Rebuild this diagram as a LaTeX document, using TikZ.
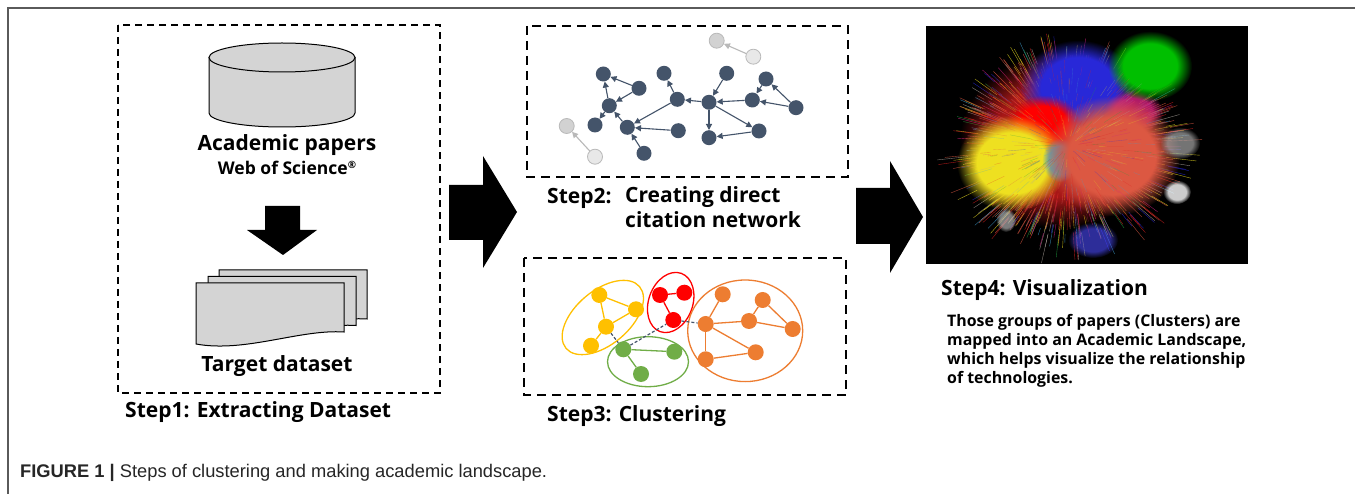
\documentclass[tikz,border=0pt]{standalone}
\usepackage{fontspec}
\setmainfont{Open Sans}
\newfontfamily\capfont{Liberation Sans}
\usetikzlibrary{arrows.meta,fadings}
\definecolor{slate}{HTML}{44546A}
\definecolor{docgray}{HTML}{D4D4D4}
\definecolor{yel}{HTML}{FFC000}
\definecolor{redc}{HTML}{FF0000}
\definecolor{grn}{HTML}{70AD47}
\definecolor{org}{HTML}{ED7D31}
\definecolor{framegray}{HTML}{5A5A5A}
\definecolor{hr}{HTML}{E02020}
\definecolor{hy}{HTML}{EEE020}
\definecolor{hb}{HTML}{2828D8}
\definecolor{ho}{HTML}{DC5842}
\definecolor{hm}{HTML}{D02080}
\definecolor{hc}{HTML}{40A0D0}
\definecolor{hg}{HTML}{20A040}
\definecolor{hw}{HTML}{B0A8A0}
\pgfdeclareradialshading{blobshade}{\pgfpointorigin}{color(0bp)=(white); color(16bp)=(white); color(25bp)=(black); color(50bp)=(black)}
\pgfdeclarefading{blob}{\pgfuseshading{blobshade}}
\tikzset{
  lab/.style={inner sep=0, font=\bfseries\fontsize{21}{25}\selectfont},
  stepbox/.style={draw=black, line width=1.4, dash pattern=on 7pt off 5pt},
  stepboxb/.style={draw=black, line width=2, dash pattern=on 9pt off 6pt},
  netn/.style={circle, fill=slate, inner sep=0, minimum size=15pt},
  ghost/.style={circle, fill=#1, draw=gray!55, line width=0.8, inner sep=0, minimum size=15pt},
  cite/.style={-{Triangle[length=6pt,width=6pt]}, draw=slate, line width=1.1},
  gcite/.style={-{Triangle[length=6pt,width=6pt]}, draw=gray!55, line width=1.1},
  cn/.style={circle, fill=#1, inner sep=0, minimum size=16pt},
  ce/.style={draw=#1, line width=1.3},
  bigarrow/.style={fill=black},
}
\begin{document}
\begin{tikzpicture}[x=1pt,y=-1pt]
\useasboundingbox (0,0) rectangle (1355,494);
\fill[white] (0,0) rectangle (1355,494);
% outer frame (partial)
\draw[framegray, line width=1.3] (1355,8) -- (8,8) -- (8,494);

% ---------- Step 1 ----------
\draw[stepbox] (118,25) rectangle (440,393);
% cylinder
\filldraw[fill=docgray, draw=black, line width=1] (209,57.5) -- (209,113) arc[start angle=180, end angle=0, x radius=73, y radius=14] -- (355,57.5) -- cycle;
\filldraw[fill=docgray, draw=black, line width=1] (282,57.5) ellipse [x radius=73, y radius=14.5];
\node[lab] (acad) at (287,145) {Academic papers};
\node[inner sep=0, font=\bfseries\fontsize{17.5}{20}\selectfont] (wos) at (287,168) {Web of Science\raisebox{0.6ex}{\fontsize{10}{10}\selectfont ®}};
% down arrow
\fill[black] (265,206) -- (300,206) -- (300,230) -- (317,230) -- (283,255) -- (247,230) -- (265,230) -- cycle;
% document stack
\foreach \dx/\dy in {23/-13, 12/-6.5, 0/0}{
  \filldraw[fill=docgray, draw=black, line width=1, shift={(\dx,\dy)}]
    (196,283) -- (344,283) -- (344,332) .. controls (300,329) and (245,353) .. (196,344) -- cycle;
}
\node[lab] (target) at (277,366) {Target dataset};
\node[lab, anchor=west] (s1) at (125,412) {Step1: Extracting Dataset};

% big arrows
\fill[bigarrow] (449,185) -- (483,185) -- (483,156) -- (517,212) -- (483,268) -- (483,240) -- (449,240) -- cycle;
\fill[bigarrow] (856,188) -- (890,188) -- (890,161) -- (923,217) -- (890,273) -- (890,244) -- (856,244) -- cycle;

% ---------- Step 2 ----------
\draw[stepboxb] (527,26) rectangle (848,177);
\node[netn] (n1) at (603.3,74) {};
\node[netn] (n2) at (639,88.3) {};
\node[netn] (n3) at (609.3,105.7) {};
\node[netn] (n4) at (595,125) {};
\node[netn] (n5) at (627.3,127.3) {};
\node[netn] (n6) at (644,153.3) {};
\node[netn] (n7) at (678.3,130.7) {};
\node[netn] (n8) at (664,73.3) {};
\node[netn] (n9) at (677.3,99.3) {};
\node[netn] (n10) at (709,102.3) {};
\node[netn] (n11) at (726.7,73.3) {};
\node[netn] (n12) at (709,137.7) {};
\node[netn] (n13) at (759,131) {};
\node[netn] (n14) at (752.3,100) {};
\node[netn] (n15) at (766,79) {};
\node[netn] (n16) at (796,107.7) {};
\node[ghost=gray!35] (g1) at (716.7,40.7) {};
\node[ghost=gray!18] (g2) at (753.3,56.7) {};
\node[ghost=gray!35] (g3) at (566.7,126) {};
\node[ghost=gray!18] (g4) at (595,156.7) {};
\foreach \a/\b in {n2/n1, n2/n3, n3/n1, n3/n4, n5/n3, n9/n5, n7/n5, n6/n5, n9/n8, n10/n9, n11/n10, n14/n10, n10/n12, n10/n13, n13/n12, n15/n14, n16/n14, n16/n15}
  \draw[cite] (\a) -- (\b);
\draw[gcite] (g2) -- (g1);
\draw[gcite] (g4) -- (g3);
\node[lab, anchor=west] (s2a) at (547,198) {Step2:};
\node[lab, anchor=north west, align=left] (s2b) at (625,186) {Creating direct\\citation network};

% ---------- Step 3 ----------
\draw[stepboxb] (524,258) rectangle (846,395);
\draw[yel, line width=1.3, rotate around={40:(602.8,317.5)}] (602.8,317.5) ellipse [x radius=48, y radius=27];
\draw[redc, line width=1.3, rotate around={70:(670.7,302.5)}] (670.7,302.5) ellipse [x radius=31, y radius=22];
\draw[grn, line width=1.3] (648,361.7) ellipse [x radius=40.5, y radius=25];
\draw[org, line width=1.3] (745.2,330.8) ellipse [x radius=57.5, y radius=50.8];
\node[cn=yel] (y1) at (599.3,295) {};
\node[cn=yel] (y2) at (636,309.3) {};
\node[cn=yel] (y3) at (606,326.7) {};
\node[cn=yel] (y4) at (591,345.7) {};
\node[cn=redc] (r1) at (660,295) {};
\node[cn=redc] (r2) at (684.3,292.7) {};
\node[cn=redc] (r3) at (673.3,320) {};
\node[cn=grn] (q1) at (623.3,349.3) {};
\node[cn=grn] (q2) at (674.3,351.7) {};
\node[cn=grn] (q3) at (641,374) {};
\node[cn=org] (o1) at (722.7,294.3) {};
\node[cn=org] (o2) at (762.7,300) {};
\node[cn=org] (o3) at (705.7,324) {};
\node[cn=org] (o4) at (749,321) {};
\node[cn=org] (o5) at (792.7,329) {};
\node[cn=org] (o6) at (755.7,352.3) {};
\node[cn=org] (o7) at (705.7,359.3) {};
\foreach \a/\b in {y1/y2, y1/y3, y2/y3, y3/y4} \draw[ce=yel] (\a) -- (\b);
\foreach \a/\b in {r1/r2, r1/r3} \draw[ce=redc] (\a) -- (\b);
\foreach \a/\b in {q1/q2, q1/q3} \draw[ce=grn] (\a) -- (\b);
\foreach \a/\b in {o1/o3, o3/o4, o2/o4, o2/o5, o4/o5, o3/o6, o3/o7, o7/o6} \draw[ce=org] (\a) -- (\b);
\foreach \a/\b in {y3/q1, q1/r3, r3/o3} \draw[slate, line width=1.2, dash pattern=on 3pt off 2pt] (\a) -- (\b);
\node[lab, anchor=west] (s3) at (547,416) {Step3: Clustering};

% ---------- Step 4 ----------
\begin{scope}
\clip (926,26) rectangle (1248,264);
\fill[black] (926,26) rectangle (1248,264);
\pgfmathsetseed{11}
\pgfmathdeclarerandomlist{hair}{{hr}{hy}{hb}{ho}{hm}{hc}{hg}{hw}{hr}{hy}{ho}}
\foreach \i in {1,...,700}{
  \pgfmathsetmacro\ang{rnd*360}
  \pgfmathsetmacro\ra{0.35+0.45*rnd}
  \pgfmathsetmacro\rb{\ra+0.06+0.2*rnd}
  \pgfmathrandomitem{\hcol}{hair}
  \draw[color=\hcol, line width=0.4, opacity=0.75] ({1068+130*\ra*cos(\ang)},{146+114*\ra*sin(\ang)}) -- ({1068+130*\rb*cos(\ang)},{146+114*\rb*sin(\ang)});
}
\fill[hr, path fading=blob, opacity=0.75] (1060,140) ellipse [x radius=100, y radius=88];
\fill[hb, path fading=blob] (1078,88) ellipse [x radius=58, y radius=48];
\fill[hm, path fading=blob, opacity=0.8] (1133,112) ellipse [x radius=30, y radius=22];
\fill[red, path fading=blob] (1043,125) ellipse [x radius=38, y radius=30];
\fill[hy, path fading=blob] (1012,163) ellipse [x radius=55, y radius=48];
\fill[hc, path fading=blob, opacity=0.8] (1060,160) ellipse [x radius=18, y radius=22];
\fill[ho, path fading=blob] (1112,156) ellipse [x radius=68, y radius=60];
\fill[green!75!black, path fading=blob] (1150,66) ellipse [x radius=42, y radius=35];
\fill[gray!70, path fading=blob, opacity=0.7] (1180,143) ellipse [x radius=20, y radius=16];
\fill[white, path fading=blob, opacity=0.8] (1177,192) ellipse [x radius=14, y radius=12];
\fill[blue!70!white, path fading=blob, opacity=0.6] (1093,240) ellipse [x radius=25, y radius=18];
\fill[gray!60, path fading=blob, opacity=0.7] (1006,220) ellipse [x radius=10, y radius=12];
\pgfmathsetseed{5}
\foreach \i in {1,...,350}{
  \pgfmathsetmacro\ang{rnd*360}
  \pgfmathsetmacro\ra{0.05+0.6*rnd}
  \pgfmathsetmacro\rb{\ra+0.05+0.12*rnd}
  \pgfmathrandomitem{\hcol}{hair}
  \draw[color=\hcol, line width=0.35, opacity=0.35] ({1068+130*\ra*cos(\ang)},{146+114*\ra*sin(\ang)}) -- ({1068+130*\rb*cos(\ang)},{146+114*\rb*sin(\ang)});
}
\end{scope}
\node[lab, anchor=west] (s4) at (941,290) {Step4: Visualization};
\node[inner sep=0, anchor=north west, align=left, font=\bfseries\fontsize{15.9}{19.2}\selectfont] (desc) at (947,314) {Those groups of papers (Clusters) are\\mapped into an Academic Landscape,\\which helps visualize the relationship\\of technologies.};

% caption
\node[inner sep=0, anchor=west, font=\capfont\fontsize{18.3}{21}\selectfont, text=black!85] (cap) at (20,473) {{\bfseries FIGURE 1 |} Steps of clustering and making academic landscape.};
\end{tikzpicture}
\end{document}
